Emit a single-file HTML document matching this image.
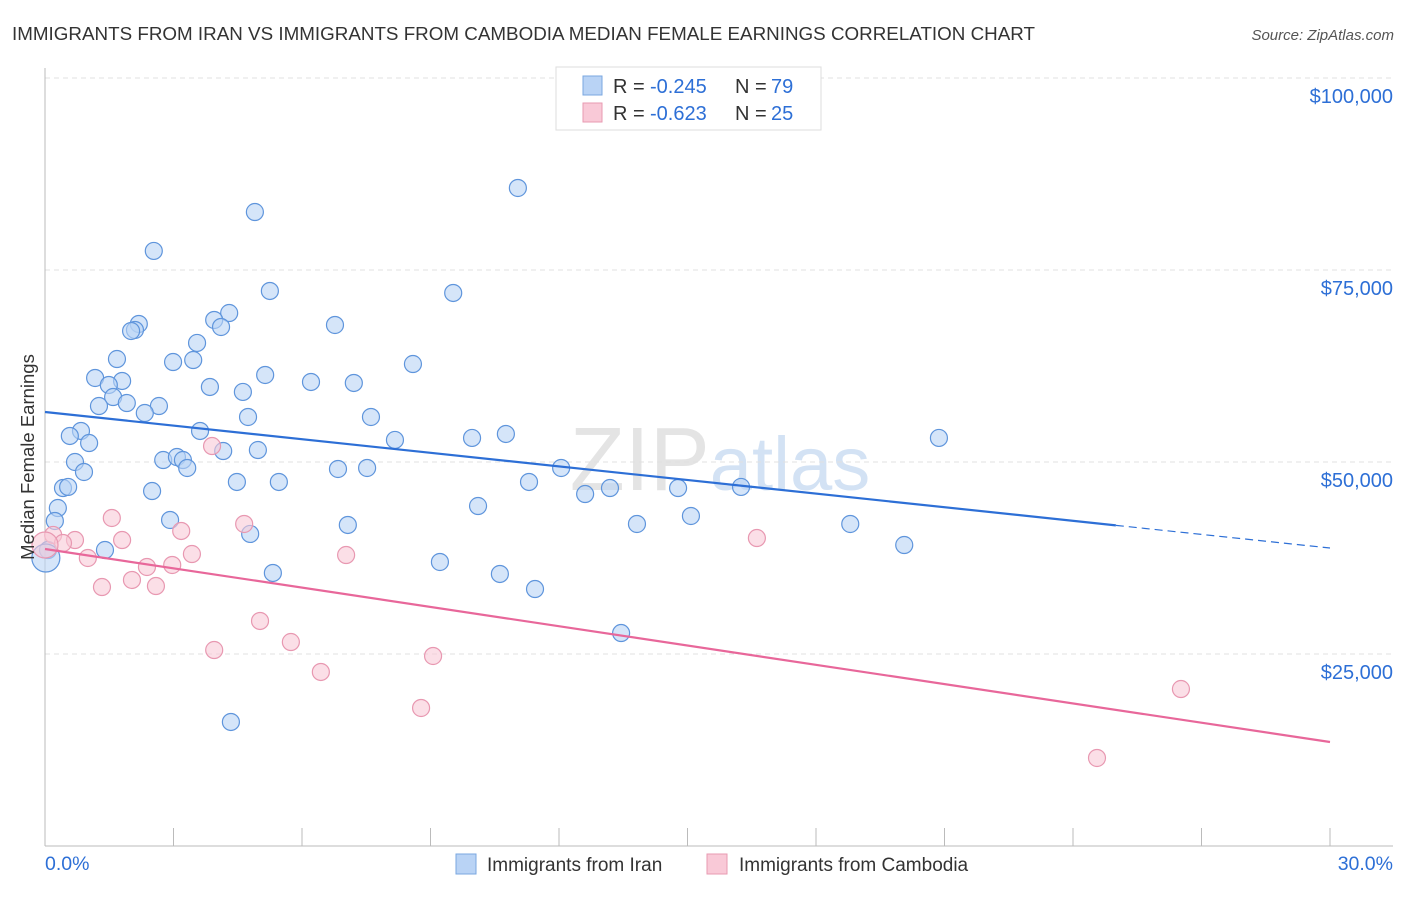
<!DOCTYPE html>
<html><head><meta charset="utf-8"><style>
body{margin:0;background:#fff;font-family:"Liberation Sans",sans-serif}
svg text{font-family:"Liberation Sans",sans-serif}
</style></head><body>
<svg id="chart" width="1406" height="892" viewBox="0 0 1406 892">
<text x="12" y="40" font-size="18.5" fill="#333" textLength="1023" lengthAdjust="spacingAndGlyphs">IMMIGRANTS FROM IRAN VS IMMIGRANTS FROM CAMBODIA MEDIAN FEMALE EARNINGS CORRELATION CHART</text>
<text x="1394" y="40" font-size="15" fill="#555" text-anchor="end" font-style="italic">Source: ZipAtlas.com</text>
<text x="720" y="490" font-size="90" fill="#e4e4e4" text-anchor="middle" font-family="Liberation Serif">ZIP<tspan fill="#d3e2f4" font-family="Liberation Sans" font-size="76">atlas</tspan></text>
<g id="grid"></g>
<g id="axes"></g>
<g id="marks"></g>
<text transform="translate(34,457) rotate(-90)" font-size="18.5" fill="#333" text-anchor="middle">Median Female Earnings</text>
<g>
<rect x="556" y="67" width="265" height="63" fill="#fff" stroke="#ddd"/>
<rect x="583" y="76" width="19" height="19" fill="#b9d3f5" stroke="#7aa7e0"/>
<rect x="583" y="103" width="19" height="19" fill="#f9c9d7" stroke="#e89ab2"/>
<text x="613" y="93" font-size="20" fill="#333">R =</text><text x="650" y="93" font-size="20" fill="#2d6fd6">-0.245</text><text x="735" y="93" font-size="20" fill="#333">N =</text><text x="771" y="93" font-size="20" fill="#2d6fd6">79</text>
<text x="613" y="120" font-size="20" fill="#333">R =</text><text x="650" y="120" font-size="20" fill="#2d6fd6">-0.623</text><text x="735" y="120" font-size="20" fill="#333">N =</text><text x="771" y="120" font-size="20" fill="#2d6fd6">25</text>
</g>
<g>
<rect x="456" y="854" width="20" height="20" fill="#b9d3f5" stroke="#7aa7e0"/>
<text x="487" y="871" font-size="19" fill="#333">Immigrants from Iran</text>
<rect x="707" y="854" width="20" height="20" fill="#f9c9d7" stroke="#e89ab2"/>
<text x="739" y="871" font-size="19" fill="#333">Immigrants from Cambodia</text>
</g>
</svg>
<script>
const yTicks=[25000,50000,75000,100000];
const yTickLabels=["$25,000","$50,000","$75,000","$100,000"];
const xTickCount=10;
const xMin=0,xMax=30;
const iranX=[11.04,4.90,2.54,5.25,9.53,4.30,3.95,4.11,2.19,2.10,2.01,6.77,3.55,1.68,2.99,3.46,8.59,1.17,1.80,1.49,5.14,6.21,7.21,3.85,4.62,1.59,1.91,1.26,2.66,2.33,4.74,7.61,0.84,0.58,3.62,1.03,8.17,9.97,10.76,20.87,4.16,4.97,2.76,3.08,3.22,3.32,0.70,0.91,6.84,7.52,12.05,4.48,5.46,11.30,2.50,0.42,0.54,13.19,12.61,14.78,16.25,0.30,0.23,10.11,15.08,2.92,7.07,13.82,18.80,4.79,20.06,1.40,0.07,0.02,9.22,5.32,10.62,11.44,13.45,4.34];
const iranY=[85680,82550,77480,72270,72010,69400,68490,67580,67970,67190,67060,67840,65500,63410,63020,63280,62760,60940,60550,60030,61330,60420,60290,59770,59120,58460,57680,57290,57290,56380,55860,55860,54040,53390,54040,52470,52870,53130,53650,53130,51430,51560,50260,50650,50260,49220,50000,48700,49090,49220,49220,47400,47400,47400,46220,46610,46750,46610,45830,46610,46750,44010,42320,44270,42970,42450,41800,41930,41930,40630,39190,38540,38540,37500,36980,35550,35420,33460,27730,16150];
const cambX=[0.19,0.70,0.42,1.56,1.80,1.00,3.18,4.65,3.90,3.43,7.03,2.38,2.97,2.03,1.33,2.59,5.02,5.74,3.95,9.06,6.44,8.78,16.62,26.52,24.56,0];
const cambY=[40500,39840,39450,42710,39840,37500,41020,41930,52080,38020,37890,36330,36590,34640,33720,33850,29300,26560,25520,24740,22660,17970,40100,20440,11460,39190];
const iranTrend=[56510,38800]; const iranSolidEnd=25;
const cambTrend=[38670,13540];
const NS="http://www.w3.org/2000/svg";
const X=v=>45+(v-xMin)/(xMax-xMin)*1285;
const Y=v=>846-v/25000*192;
function mk(tag,attrs,parent){const e=document.createElementNS(NS,tag);for(const k in attrs)e.setAttribute(k,attrs[k]);parent.appendChild(e);return e;}
const grid=document.getElementById('grid'),axes=document.getElementById('axes'),marks=document.getElementById('marks');
yTicks.forEach((t,i)=>{
 const l=mk('line',{x1:45,x2:1393,y1:Y(t),y2:Y(t),stroke:'#e0e0e0','stroke-dasharray':'5,4'},grid);
 
 
 const tx=mk('text',{x:1393,y:Y(t)+25,'font-size':20,fill:'#2d6fd6','text-anchor':'end'},axes);
 tx.textContent=yTickLabels[i];
 
 
});
const yl=mk('line',{x1:45,x2:45,y1:68,y2:846,stroke:'#bbb'},axes);


const xl=mk('line',{x1:45,x2:1393,y1:846,y2:846,stroke:'#bbb'},axes);


for(let i=0;i<=xTickCount;i++){const v=xMin+i*(xMax-xMin)/xTickCount;
 const t=mk('line',{x1:X(v),x2:X(v),y1:828,y2:846,stroke:'#bbb'},axes);
 
 }
const x0=mk('text',{x:45,y:870,'font-size':19.5,fill:'#2d6fd6'},axes);x0.textContent=xMin.toFixed(1)+'%';


const x1=mk('text',{x:1393,y:870,'font-size':19.5,fill:'#2d6fd6','text-anchor':'end'},axes);x1.textContent=xMax.toFixed(1)+'%';


function dot(x,y,r,fill,stroke,name){const c=mk('circle',{cx:X(x),cy:Y(y),r:r,fill:fill,'fill-opacity':0.6,stroke:stroke,'stroke-width':1.2},marks);
 
 }
iranX.forEach((x,i)=>dot(x,iranY[i],(i==73?14:8.5),'#b9d3f5','#5f95dc','point-iran'));
cambX.forEach((x,i)=>dot(x,cambY[i],(i==25?13:8.5),'#f9c9d7','#e898b1','point-cambodia'));
const slope=(iranTrend[1]-iranTrend[0])/(xMax-xMin);
const midY=iranTrend[0]+slope*(iranSolidEnd-xMin);
const b1=mk('line',{x1:X(xMin),y1:Y(iranTrend[0]),x2:X(iranSolidEnd),y2:Y(midY),stroke:'#2d6fd6','stroke-width':2.2},marks);


const b2=mk('line',{x1:X(iranSolidEnd),y1:Y(midY),x2:X(xMax),y2:Y(iranTrend[1]),stroke:'#2d6fd6','stroke-width':1.2,'stroke-dasharray':'8,5'},marks);


const p1=mk('line',{x1:X(xMin),y1:Y(cambTrend[0]),x2:X(xMax),y2:Y(cambTrend[1]),stroke:'#e8679a','stroke-width':2.2},marks);


</script>
</body></html>
